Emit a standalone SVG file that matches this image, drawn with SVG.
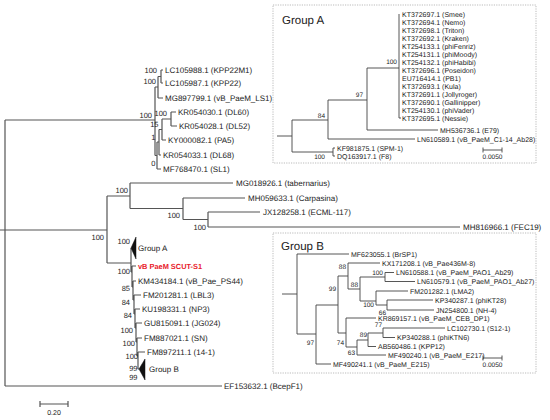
<svg xmlns="http://www.w3.org/2000/svg" width="550" height="420" viewBox="0 0 550 420">
<style>
.br{fill:none;stroke:#555;stroke-width:1.2}
.ib{fill:none;stroke:#444;stroke-width:0.9}
.tri{fill:#111;stroke:#111;stroke-width:0.5}
.box{fill:none;stroke:#aaa;stroke-width:0.8;stroke-dasharray:1.2,1.2}
text{font-family:"Liberation Sans",Arial,sans-serif;fill:#222;text-rendering:geometricPrecision}
.lf{font-size:8px}
.bs{font-size:7.5px;text-anchor:end}
.il{font-size:7px;fill:#222}
.ibs{font-size:6.5px;text-anchor:end}
.sc{font-size:6.5px;text-anchor:middle}
.ttl{font-size:11.5px}
.red{font-size:7.4px;font-weight:bold;fill:#e8202a}
</style>
<rect width="550" height="420" fill="#fff"/>
<g id="connectors">
<path class="br" d="M5 120V386M5 120H155M155 87V155.5M155 87H158M158 76.5V98M158 76.5H161M161 70V83M161 70H163M161 83H163M158 98H163M155 155.5H157M157 142V169M157 169H161M157 142H159M159 129.5V155M159 155H161M159 129.5H162M162 119V140M162 140H166M162 119H171M171 112V126M171 112H176M171 126H177"/>
<path class="br" d="M0 230H107M107 196V263M107 196H130M130 183V208.5M130 183H233M130 208.5H183M183 198V219.5M183 198H245M183 219.5H208M208 212V227M208 212H260M208 227H460"/>
<path class="br" d="M107 263H131M131 248V272M131 272H132M132 266V287M132 266H136M132 287H133M133 281V300M133 281H136M133 300H134M134 295V314M134 295H141M134 314H135M135 309V328M135 309H140M135 328H136M136 323V342M136 323H142M136 342H137M137 338V356M137 338H142M137 356H138M138 352V369M138 352H145M138 369H139"/>
<path class="br" d="M5 386H222"/>
<path class="br" d="M40 404H68M40 401V407M68 401V407"/>
<path class="ib" d="M277 136H292M292 120V152M292 120H328M328 100V139M328 100H367M367 68V130M367 68H399M399 14V118M367 130H438M328 139H415M292 152H333M333 148V156M333 148H335M333 156H335M399 118H401"/>
<path class="ib" d="M483 150H502M483 147.5V152.5M502 147.5V152.5"/>
<path class="ib" d="M282 294H297M297 254V334M297 254H349M297 334H316M316 305V364M316 364H331M316 305H338M338 276V333M338 276H348M348 263V289M348 263H380M348 289H360M360 277V301M360 277H385M385 272.5V281.5M385 272.5H394M385 281.5H415M360 301H376M376 291V305M376 291H408M376 305H387M387 300V310M387 300H433M387 310H434M338 333H346M346 318V347M346 318H376M346 347H357M357 340V355M357 355H386M357 340H368M368 333V346.5M368 346.5H376M368 333H383M383 328V337.5M383 328H445M383 337.5H395"/>
<path class="ib" d="M483 358H502M483 355.5V360.5M502 355.5V360.5"/>
</g>
<g id="boxes">
<rect class="box" x="273" y="5" width="263" height="158"/>
<rect class="box" x="273" y="233" width="263" height="140"/>
</g>
<g id="main-leaves">
<g id="n-kpp22m1"><text class="lf" x="165" y="73">LC105988.1 (KPP22M1)</text></g>
<g id="n-kpp22"><text class="lf" x="165" y="86">LC105987.1 (KPP22)</text></g>
<g id="n-ls1"><text class="lf" x="165" y="101">MG897799.1 (vB_PaeM_LS1)</text></g>
<g id="n-dl60"><text class="lf" x="178" y="115">KR054030.1 (DL60)</text></g>
<g id="n-dl52"><text class="lf" x="179" y="129">KR054028.1 (DL52)</text></g>
<g id="n-pa5"><text class="lf" x="168" y="143">KY000082.1 (PA5)</text></g>
<g id="n-dl68"><text class="lf" x="163" y="158">KR054033.1 (DL68)</text></g>
<g id="n-sl1"><text class="lf" x="163" y="172">MF768470.1 (SL1)</text></g>
<g id="n-tab"><text class="lf" x="236" y="186">MG018926.1 (tabernarius)</text></g>
<g id="n-carp"><text class="lf" x="248" y="201">MH059633.1 (Carpasina)</text></g>
<g id="n-ecml"><text class="lf" x="263" y="215">JX128258.1 (ECML-117)</text></g>
<g id="n-fec19"><text class="lf" x="463" y="230">MH816966.1 (FEC19)</text></g>
<g id="n-groupA"><polygon class="tri" points="131,248 136,237 136,259"/><text class="lf" x="138" y="251">Group A</text></g>
<g id="n-scut"><text class="red" x="138" y="269">vB PaeM SCUT-S1</text></g>
<g id="n-ps44"><text class="lf" x="138" y="284">KM434184.1 (vB_Pae_PS44)</text></g>
<g id="n-lbl3"><text class="lf" x="143" y="298">FM201281.1 (LBL3)</text></g>
<g id="n-np3"><text class="lf" x="142" y="312">KU198331.1 (NP3)</text></g>
<g id="n-jg024"><text class="lf" x="144" y="326">GU815091.1 (JG024)</text></g>
<g id="n-sn"><text class="lf" x="144" y="341">FM887021.1 (SN)</text></g>
<g id="n-141"><text class="lf" x="147" y="355">FM897211.1 (14-1)</text></g>
<g id="n-groupB"><polygon class="tri" points="139,369 145,359 145,380"/><text class="lf" x="149" y="372">Group B</text></g>
<g id="n-bcepf1"><text class="lf" x="224" y="389">EF153632.1 (BcepF1)</text></g>
<g id="scale-main"><text class="sc" x="54" y="415" style="font-size:7px">0.20</text></g>
</g>
<g id="main-support">
<text class="bs" x="157" y="72.5">100</text>
<text class="bs" x="156" y="84">100</text>
<text class="bs" x="152" y="118">100</text>
<text class="bs" x="167" y="116">100</text>
<text class="bs" x="158.5" y="127">15</text>
<text class="bs" x="155.5" y="139.5">1</text>
<text class="bs" x="155.5" y="166">0</text>
<text class="bs" x="128" y="192.5">100</text>
<text class="bs" x="180" y="217.5">100</text>
<text class="bs" x="206" y="229.5">100</text>
<text class="bs" x="104" y="239.5">100</text>
<text class="bs" x="130" y="243.5">100</text>
<text class="bs" x="130" y="273.5">100</text>
<text class="bs" x="130" y="290.5">85</text>
<text class="bs" x="130" y="304.5">84</text>
<text class="bs" x="132" y="317.5">84</text>
<text class="bs" x="133" y="332.5">100</text>
<text class="bs" x="135" y="345.5">100</text>
<text class="bs" x="138" y="358.5">100</text>
<text class="bs" x="137.5" y="370.5">99</text>
<text class="bs" x="137.5" y="379.5">99</text>
</g>
<g id="groupA">
<text class="ttl" x="282" y="24">Group A</text>
<g id="a-smee"><text class="il" x="402" y="16.5">KT372697.1 (Smee)</text></g>
<g id="a-nemo"><text class="il" x="402" y="24.5">KT372694.1 (Nemo)</text></g>
<g id="a-triton"><text class="il" x="402" y="32.5">KT372698.1 (Triton)</text></g>
<g id="a-kraken"><text class="il" x="402" y="40.5">KT372692.1 (Kraken)</text></g>
<g id="a-fenriz"><text class="il" x="402" y="48.5">KT254133.1 (phiFenriz)</text></g>
<g id="a-moody"><text class="il" x="402" y="56.5">KT254131.1 (phiMoody)</text></g>
<g id="a-habibi"><text class="il" x="402" y="64.5">KT254132.1 (phiHabibi)</text></g>
<g id="a-poseidon"><text class="il" x="402" y="72.5">KT372696.1 (Poseidon)</text></g>
<g id="a-pb1"><text class="il" x="402" y="80.5">EU716414.1 (PB1)</text></g>
<g id="a-kula"><text class="il" x="402" y="88.5">KT372693.1 (Kula)</text></g>
<g id="a-jolly"><text class="il" x="402" y="96.5">KT372691.1 (Jollyroger)</text></g>
<g id="a-galli"><text class="il" x="402" y="104.5">KT372690.1 (Gallinipper)</text></g>
<g id="a-vader"><text class="il" x="402" y="112.5">KT254130.1 (phiVader)</text></g>
<g id="a-nessie"><text class="il" x="402" y="120.5">KT372695.1 (Nessie)</text></g>
<g id="a-e79"><text class="il" x="440" y="132.5">MH536736.1 (E79)</text></g>
<g id="a-ab28"><text class="il" x="417" y="141.5">LN610589.1 (vB_PaeM_C1-14_Ab28)</text></g>
<g id="a-spm1"><text class="il" x="337" y="150.5">KF981875.1 (SPM-1)</text></g>
<g id="a-f8"><text class="il" x="337" y="158.5">DQ163917.1 (F8)</text></g>
<text class="ibs" x="397" y="64">100</text>
<text class="ibs" x="363" y="97">97</text>
<text class="ibs" x="325" y="118">84</text>
<text class="ibs" x="325" y="159">100</text>
<text class="sc" x="492.5" y="159">0.0050</text>
</g>
<g id="groupB">
<text class="ttl" x="281" y="250">Group B</text>
<g id="b-brsp1"><text class="il" x="351" y="256.5">MF623055.1 (BrSP1)</text></g>
<g id="b-436m"><text class="il" x="382" y="265.5">KX171208.1 (vB_Pae436M-8)</text></g>
<g id="b-ab29"><text class="il" x="396" y="275">LN610588.1 (vB_PaeM_PAO1_Ab29)</text></g>
<g id="b-ab27"><text class="il" x="417" y="284">LN610579.1 (vB_PaeM_PAO1_Ab27)</text></g>
<g id="b-lma2"><text class="il" x="410" y="293.5">FM201282.1 (LMA2)</text></g>
<g id="b-kt28"><text class="il" x="435" y="302.5">KP340287.1 (phiKT28)</text></g>
<g id="b-nh4"><text class="il" x="436" y="312.5">JN254800.1 (NH-4)</text></g>
<g id="b-ceb"><text class="il" x="378" y="320.5">KR869157.1 (vB_PaeM_CEB_DP1)</text></g>
<g id="b-s12"><text class="il" x="447" y="330.5">LC102730.1 (S12-1)</text></g>
<g id="b-ktn6"><text class="il" x="397" y="340">KP340288.1 (phiKTN6)</text></g>
<g id="b-kpp12"><text class="il" x="378" y="349">AB560486.1 (KPP12)</text></g>
<g id="b-e217"><text class="il" x="388" y="357.5">MF490240.1 (vB_PaeM_E217)</text></g>
<g id="b-e215"><text class="il" x="333" y="366.5">MF490241.1 (vB_PaeM_E215)</text></g>
<text class="ibs" x="346" y="269">88</text>
<text class="ibs" x="383" y="274.5">100</text>
<text class="ibs" x="358" y="287">88</text>
<text class="ibs" x="374" y="306.5">100</text>
<text class="ibs" x="386" y="315">66</text>
<text class="ibs" x="336" y="290.5">99</text>
<text class="ibs" x="344" y="345">74</text>
<text class="ibs" x="382" y="327">77</text>
<text class="ibs" x="367" y="336.5">89</text>
<text class="ibs" x="355" y="355">63</text>
<text class="ibs" x="314" y="344.5">97</text>
<text class="sc" x="492.5" y="367">0.0050</text>
</g>
</svg>
